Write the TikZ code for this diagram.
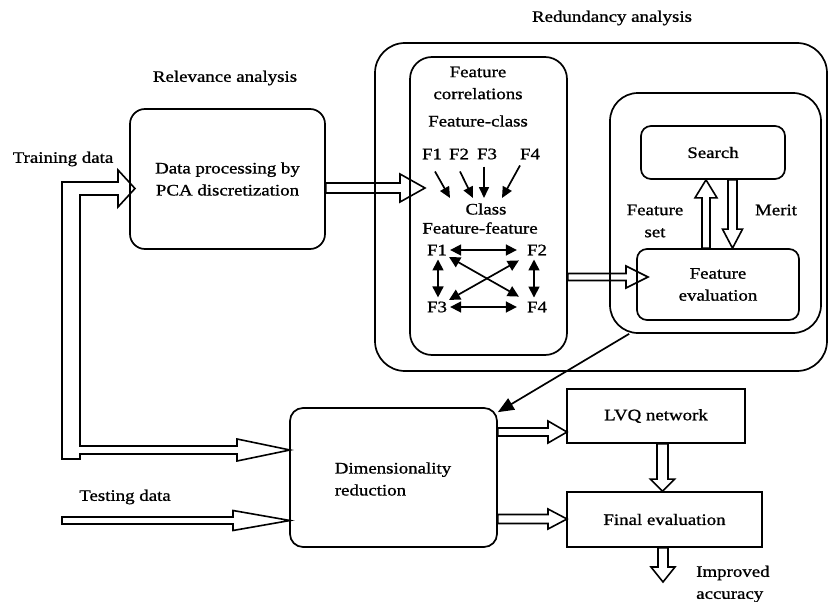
\documentclass[tikz,border=0pt]{standalone}
\usepackage{fontspec}
\setmainfont{Liberation Serif}[FakeStretch=1.18,FakeBold=1]
\usetikzlibrary{calc,arrows.meta}
\newcommand\diagfont{\fontsize{16}{22}\selectfont}
\tikzset{
  box/.style={draw, line width=1.7pt, inner sep=0pt, align=center, font=\diagfont},
  txt/.style={inner sep=1pt, align=center, font=\diagfont},
  blk/.style={draw, line width=1.6pt, line join=miter},
  sarr/.style={line width=1.7pt, -{Triangle[length=11pt,width=10pt]}},
  darr/.style={line width=1.7pt, {Triangle[length=11pt,width=11pt]}-{Triangle[length=11pt,width=11pt]}},
  bigarr/.style={line width=1.7pt, -{Triangle[length=16pt,width=13pt]}},
}
% hollow block arrows: start, tip, shaft half width, head half width, head length
\newcommand\barR[5]{\draw[blk] let \p1=(#1), \p2=(#2) in
  (\x1,\y2+#3) -- (\x2-#5,\y2+#3) -- (\x2-#5,\y2+#4) -- (\x2,\y2) -- (\x2-#5,\y2-#4) -- (\x2-#5,\y2-#3) -- (\x1,\y2-#3) -- cycle;}
\newcommand\barD[5]{\draw[blk] let \p1=(#1), \p2=(#2) in
  (\x2+#3,\y1) -- (\x2+#3,\y2+#5) -- (\x2+#4,\y2+#5) -- (\x2,\y2) -- (\x2-#4,\y2+#5) -- (\x2-#3,\y2+#5) -- (\x2-#3,\y1) -- cycle;}
\newcommand\barU[5]{\draw[blk] let \p1=(#1), \p2=(#2) in
  (\x2+#3,\y1) -- (\x2+#3,\y2-#5) -- (\x2+#4,\y2-#5) -- (\x2,\y2) -- (\x2-#4,\y2-#5) -- (\x2-#3,\y2-#5) -- (\x2-#3,\y1) -- cycle;}
\begin{document}
\begin{tikzpicture}[x=1pt,y=-1pt]
\useasboundingbox (0,0) rectangle (828,602);

% titles
\node[txt] (rel) at (225,78) {Relevance analysis};
\node[txt] (red) at (612,18) {Redundancy analysis};

% boxes
\node[box, rounded corners=30pt, minimum width=452pt, minimum height=328pt] (outer) at (601,207) {};
\node[box, rounded corners=22pt, minimum width=157pt, minimum height=298pt] (fc) at (488.5,206) {};
\node[box, rounded corners=28pt, minimum width=211pt, minimum height=240pt] (grp) at (715.5,213) {};
\node[box, rounded corners=10pt, minimum width=144pt, minimum height=53pt] (search) at (713,152.5) {Search};
\node[box, rounded corners=10pt, minimum width=162pt, minimum height=71pt] (feval) at (718,284.5) {Feature\\evaluation};
\node[box, rounded corners=15pt, minimum width=195pt, minimum height=140pt] (dp) at (227.5,179) {Data processing by\\PCA discretization};
\node[box, rounded corners=13pt, minimum width=207pt, minimum height=139pt] (dim) at (393.5,477.5) {};
\node[txt, align=left] (dimt) at (393,479) {Dimensionality\\reduction};
\node[box, minimum width=178pt, minimum height=54pt] (lvq) at (656,416) {LVQ network};
\node[box, minimum width=195pt, minimum height=55pt] (fin) at (664.5,519.5) {Final evaluation};

% other labels
\node[txt] (train) at (63,159) {Training data};
\node[txt] (test) at (125,497) {Testing data};
\node[txt] (fset) at (655,221) {Feature\\set};
\node[txt] (merit) at (776,210) {Merit};
\node[txt, align=left, anchor=west] (imp) at (695,584) {Improved\\accuracy};

% feature correlations content
\node[txt] (fcorr) at (478,83) {Feature\\correlations};
\node[txt] (fcls) at (478,121) {Feature-class};
\node[txt] (f1) at (432,154) {F1};
\node[txt] (f2) at (459,154) {F2};
\node[txt] (f3) at (487,154) {F3};
\node[txt] (f4) at (530,154) {F4};
\node[txt] (cls) at (486,209) {Class};
\node[txt] (ffeat) at (480,228) {Feature-feature};
\node[txt] (g1) at (437,250) {F1};
\node[txt] (g2) at (537,250) {F2};
\node[txt] (g3) at (437,307) {F3};
\node[txt] (g4) at (537,307) {F4};

\coordinate (c1) at (450,198);
\coordinate (c2) at (473,198);
\coordinate (c3) at (484,198);
\coordinate (c4) at (502,198);
\draw[sarr] ($(f1.south)+(3,11)$) -- (c1);
\draw[sarr] ($(f2.south)+(1,11)$) -- (c2);
\draw[sarr] ($(f3.south)+(-3,6)$) -- (c3);
\draw[sarr] ($(f4.south)+(-10,5)$) -- (c4);

\draw[darr, shorten <=2pt, shorten >=9pt] (g1.east) -- (g2.west);
\draw[darr, shorten <=2pt, shorten >=9pt] (g3.east) -- (g4.west);
\draw[darr, shorten <=3pt, shorten >=3pt] ($(g1.south)+(1,0)$) -- ($(g3.north)+(1,0)$);
\draw[darr, shorten <=3pt, shorten >=3pt] ($(g2.south)+(-3,0)$) -- ($(g4.north)+(-3,0)$);
\draw[darr, shorten <=1pt, shorten >=8pt] (g1.south east) -- (g4.north west);
\draw[darr, shorten <=8pt, shorten >=1pt] (g2.south west) -- (g3.north east);

% hollow block arrows
\coordinate (tA) at (135,188.5);
\coordinate (tB) at (290,450);
\draw[blk] (62,182) -- (118,182) -- (118,170) -- (tA) -- (118,207) -- (118,195) -- (80,195)
  -- (80,446) -- (237,446) -- (237,439) -- (tB) -- (237,461) -- (237,454) -- (80,454)
  -- (80,459) -- (62,459) -- cycle;
\coordinate (ts) at (62,520.5);
\coordinate (tC) at (290,520.5);
\barR{ts}{tC}{3.5pt}{10pt}{57pt}

\coordinate (tD) at (425,188);
\barR{dp.east}{tD}{5pt}{14pt}{25pt}
\coordinate (tE) at (648,277);
\barR{fc.east}{tE}{3.5pt}{11pt}{22pt}
\coordinate (tF) at (567,432);
\barR{dim.east}{tF}{4pt}{11pt}{19pt}
\coordinate (tG) at (567,519);
\barR{dim.east}{tG}{4.5pt}{10pt}{19pt}

\barU{feval.north -| 706,0}{search.south -| 706,0}{4pt}{11pt}{18pt}
\barD{search.south -| 732.5,0}{feval.north -| 732.5,0}{4.5pt}{10pt}{19pt}
\barD{lvq.south -| 662.5,0}{fin.north -| 662.5,0}{5.5pt}{12pt}{12pt}
\coordinate (tH) at (663,582);
\barD{fin.south -| 663,0}{tH}{5pt}{12pt}{15pt}

% diagonal arrow
\coordinate (dg) at ($(grp.south west)+(20,0)$);
\draw[bigarr] (dg) -- ($(dim.north east)+(0,5)$);
\end{tikzpicture}
\end{document}
